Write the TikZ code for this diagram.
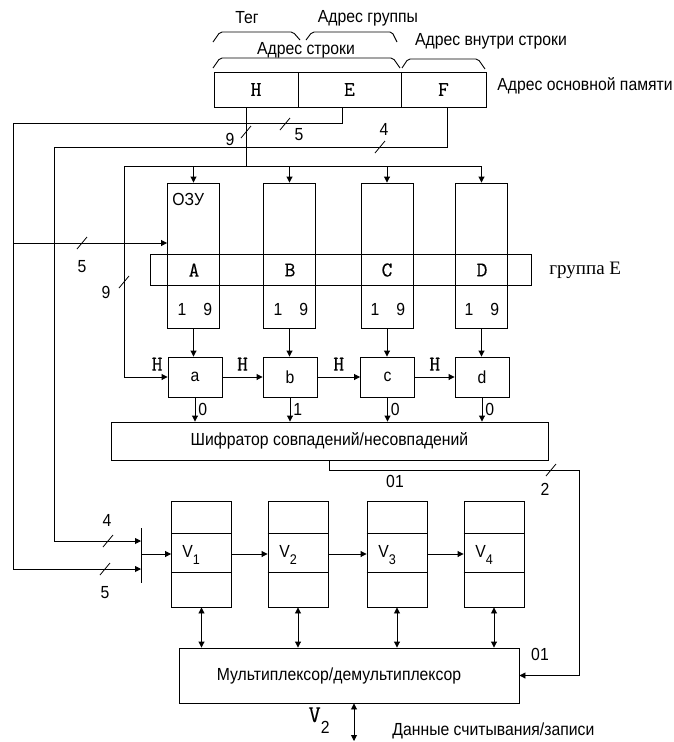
\documentclass[tikz,border=0pt]{standalone}
\usepackage{fontspec}
\setmainfont{Liberation Sans}[FakeStretch=0.9]
\newfontfamily\seriffont{Liberation Serif}
\newfontfamily\slabfont{Latin Modern Mono}[FakeBold=0.25]
\usetikzlibrary{arrows.meta,positioning}
\tikzset{busmark/.pic={\draw[line width=0.8pt] (-5,6) -- (5,-6);}}

\begin{document}
\begin{tikzpicture}[x=1pt, y=-1pt, line width=0.9pt, >={Triangle[length=6pt,width=6pt]},
  every node/.style={font=\fontsize{17.5}{19}\selectfont, inner sep=0pt},
  field/.style={draw, minimum height=35pt, font=\slabfont\fontsize{21}{23}\selectfont},
  mem/.style={draw, minimum width=52pt, minimum height=145pt},
  cmp/.style={draw, minimum width=54pt, minimum height=40pt},
  vreg/.style={draw, minimum width=60pt, minimum height=106pt},
  letter/.style={font=\slabfont\fontsize{21}{23}\selectfont},
  brace/.style={rounded corners=2pt}]
  \useasboundingbox (0,0) rectangle (673,742);

  % main memory address
  \node[field, minimum width=84pt] (H) at (256,89.5) {H};
  \node[field, minimum width=103pt] (E) at (349.5,89.5) {E};
  \node[field, minimum width=85pt] (F) at (443.5,89.5) {F};
  \node[anchor=west] (addr) at (497,86) {Адрес основной памяти};

  \draw[brace] (213,42) -- (220,32) -- (293,32) -- (300,40);
  \draw[brace] (306,40) -- (312,32) -- (392,32) -- (397,42);
  \draw[brace] (213,68) -- (220,58) -- (393,58) -- (400,68);
  \draw[brace] (402,68) -- (408,59) -- (478,59) -- (485,69);
  \node (tag) at (247,18) {Тег};
  \node (grpaddr) at (368,18) {Адрес группы};
  \node (rowaddr) at (306,50) {Адрес строки};
  \node (inaddr) at (491,41) {Адрес внутри строки};

  % memory columns
  \node[mem] (mA) at (193.5,255.5) {};
  \node[mem] (mB) at (289.5,255.5) {};
  \node[mem] (mC) at (387,255.5) {};
  \node[mem] (mD) at (481.5,255.5) {};
  \node[anchor=west] (ozu) at (172,199) {ОЗУ};
  \node[draw, minimum width=381pt, minimum height=31pt] (grp) at (340.5,269.5) {};
  \node[anchor=west, font=\seriffont\fontsize{19}{21}\selectfont] (grpname) at (549,270) {группа E};
  \node[letter] (lA) at (194,270) {A};
  \node[letter] (lB) at (290,270) {B};
  \node[letter] (lC) at (387,270) {C};
  \node[letter] (lD) at (482,270) {D};
  \node (nA) at (195,309) {1\hspace{17pt}9};
  \node (nB) at (291,309) {1\hspace{17pt}9};
  \node (nC) at (388,309) {1\hspace{17pt}9};
  \node (nD) at (482,309) {1\hspace{17pt}9};

  % comparators
  \node[cmp] (ca) at (195,377) {a};
  \node[cmp] (cb) at (290,377) {b};
  \node[cmp] (cc) at (387.5,377) {c};
  \node[cmp] (cd) at (482,377) {d};
  \node[draw, minimum width=437pt, minimum height=38pt] (enc) at (329.5,441) {Шифратор совпадений/несовпадений};

  % registers V
  \node[vreg] (v1) at (201.5,554) {};
  \node[vreg] (v2) at (298,554) {};
  \node[vreg] (v3) at (397,554) {};
  \node[vreg] (v4) at (494,554) {};
  \draw ([yshift=21pt]v1.west) -- ([yshift=21pt]v1.east) ([yshift=-18pt]v1.west) -- ([yshift=-18pt]v1.east);
  \draw ([yshift=21pt]v2.west) -- ([yshift=21pt]v2.east) ([yshift=-18pt]v2.west) -- ([yshift=-18pt]v2.east);
  \draw ([yshift=21pt]v3.west) -- ([yshift=21pt]v3.east) ([yshift=-18pt]v3.west) -- ([yshift=-18pt]v3.east);
  \draw ([yshift=21pt]v4.west) -- ([yshift=21pt]v4.east) ([yshift=-18pt]v4.west) -- ([yshift=-18pt]v4.east);
  \node[anchor=west] (lv1) at (182,555) {V\raisebox{-7pt}{\fontsize{14}{14}\selectfont 1}};
  \node[anchor=west] (lv2) at (279,555) {V\raisebox{-7pt}{\fontsize{14}{14}\selectfont 2}};
  \node[anchor=west] (lv3) at (378,555) {V\raisebox{-7pt}{\fontsize{14}{14}\selectfont 3}};
  \node[anchor=west] (lv4) at (475,555) {V\raisebox{-7pt}{\fontsize{14}{14}\selectfont 4}};
  \node[draw, minimum width=340pt, minimum height=55pt] (mux) at (349,675.5) {\hspace*{-20pt}Мультиплексор/демультиплексор};

  % address lines
  \coordinate (busL) at (124,166);
  \coordinate (busR) at (481.5,166);
  \coordinate (eL) at (13,123);
  \coordinate (fL) at (54,147);
  \coordinate (barT) at (141,528);
  \coordinate (barB) at (141,583);
  \draw ([xshift=-10pt]H.south) -- (busL -| 246,0);
  \draw (busL) -- (busR);
  \draw[->] (busL -| mA.north) -- (mA.north);
  \draw[->] (busL -| mB.north) -- (mB.north);
  \draw[->] (busL -| mC.north) -- (mC.north);
  \draw[->] (busR) -- (mD.north);
  \draw[->] (busL) |- node[pos=0.88, above=6pt, letter] (h1) {H} (ca.west);
  \draw[->] ([xshift=-7.5pt]E.south) |- (eL) |- (barB |- 0,569);
  \draw[->] (eL |- 0,243) -- ([yshift=12.5pt]mA.west);
  \draw[->] ([xshift=3.5pt]F.south) |- (fL) |- (barT |- 0,541);
  \draw (barT) -- (barB);
  \draw[->] (v1.west -| barT) -- (v1.west);

  \pic at (246,132) {busmark};
  \node (w9a) at (230,139) {9};
  \pic at (285,124) {busmark};
  \node (w5a) at (299,135) {5};
  \pic at (380,147) {busmark};
  \node (w4a) at (384,129) {4};
  \pic at (82,243) {busmark};
  \node (w5b) at (82,267) {5};
  \pic at (124,282) {busmark};
  \node (w9b) at (106,292) {9};
  \pic at (108,541) {busmark};
  \node (w4b) at (107,520) {4};
  \pic at (105,569) {busmark};
  \node (w5c) at (105,593) {5};

  % comparison
  \draw[->] (mA.south) -- (mA.south |- ca.north);
  \draw[->] (mB.south) -- (mB.south |- cb.north);
  \draw[->] (mC.south) -- (mC.south |- cc.north);
  \draw[->] (mD.south) -- (mD.south |- cd.north);
  \draw[->] (ca.east) -- node[above=6pt, letter] (h2) {H} (cb.west);
  \draw[->] (cb.east) -- node[above=6pt, letter] (h3) {H} (cc.west);
  \draw[->] (cc.east) -- node[above=6pt, letter] (h4) {H} (cd.west);
  \draw[->] (ca.south) -- node[right=3pt] (o1) {0} (ca.south |- enc.north);
  \draw[->] (cb.south) -- node[right=3pt] (o2) {1} (cb.south |- enc.north);
  \draw[->] (cc.south) -- node[right=3pt] (o3) {0} (cc.south |- enc.north);
  \draw[->] (cd.south) -- node[right=3pt] (o4) {0} (cd.south |- enc.north);
  \coordinate (encR) at (579,470);
  \draw[->] (enc.south) |- (encR) |- (mux.east);
  \node (c01a) at (395,481) {01};
  \pic at (551,470) {busmark};
  \node (w2) at (545,489) {2};
  \node (c01b) at (540,654) {01};

  % registers and multiplexer
  \draw[->] (v1.east) -- (v2.west);
  \draw[->] (v2.east) -- (v3.west);
  \draw[->] (v3.east) -- (v4.west);
  \draw[<->] (v1.south) -- (v1.south |- mux.north);
  \draw[<->] (v2.south) -- (v2.south |- mux.north);
  \draw[<->] (v3.south) -- (v3.south |- mux.north);
  \draw[<->] (v4.south) -- (v4.south |- mux.north);
  \coordinate (dout) at (354,741);
  \draw[<->] (mux.south -| dout) -- (dout);
  \node[anchor=base west] (lvout) at (308,722) {{\slabfont\fontsize{24}{24}\selectfont V}\raisebox{-11pt}{2}};
  \node[anchor=west] (data) at (392,731) {Данные считывания/записи};
\end{tikzpicture}
\end{document}
